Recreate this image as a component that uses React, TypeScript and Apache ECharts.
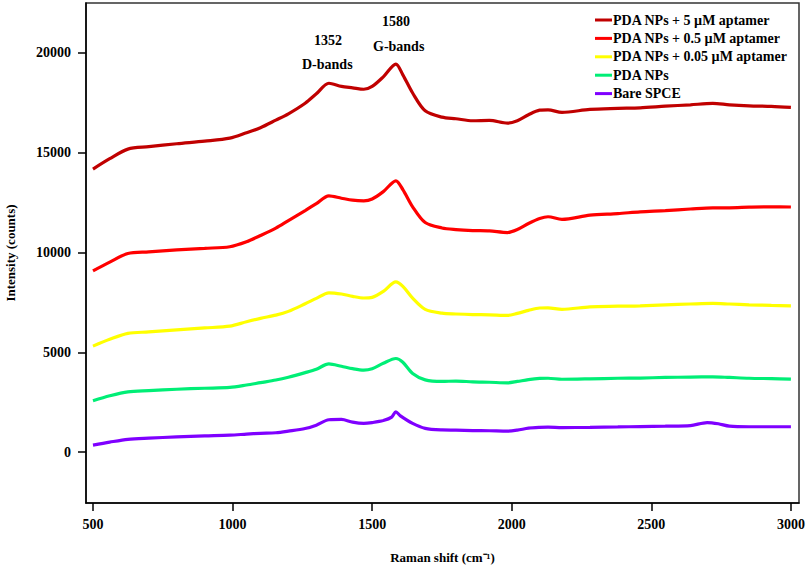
import React, { useEffect, useRef } from "react";
import * as echarts from "echarts";

const ramanShift = [500, 560, 625, 700, 800, 900, 990, 1050, 1100, 1155, 1200, 1260, 1300, 1345, 1390, 1430, 1470, 1500, 1540, 1585, 1610, 1645, 1690, 1750, 1800, 1860, 1920, 1985, 2020, 2060, 2100, 2130, 2180, 2280, 2380, 2460, 2550, 2640, 2720, 2780, 2850, 2930, 3000];

const apt5 = [14180, 14700, 15180, 15300, 15450, 15580, 15730, 16000, 16250, 16630, 16950, 17480, 17950, 18480, 18320, 18250, 18180, 18320, 18800, 19440, 18900, 17990, 17100, 16780, 16700, 16600, 16620, 16480, 16600, 16900, 17130, 17150, 17020, 17170, 17220, 17250, 17330, 17400, 17470, 17400, 17350, 17320, 17270];
const apt05 = [9080, 9520, 9950, 10030, 10130, 10210, 10290, 10540, 10850, 11220, 11600, 12100, 12450, 12840, 12720, 12620, 12590, 12680, 13050, 13590, 13150, 12290, 11500, 11230, 11150, 11100, 11080, 11000, 11150, 11450, 11700, 11790, 11660, 11870, 11950, 12040, 12100, 12180, 12240, 12240, 12270, 12290, 12280];
const apt005 = [5310, 5650, 5950, 6020, 6120, 6220, 6310, 6530, 6700, 6860, 7050, 7430, 7700, 7980, 7920, 7800, 7720, 7750, 8050, 8530, 8300, 7710, 7150, 6960, 6920, 6890, 6880, 6850, 6950, 7100, 7220, 7230, 7150, 7280, 7310, 7330, 7380, 7420, 7450, 7420, 7380, 7350, 7330];
const pdaNPs = [2570, 2820, 3020, 3080, 3150, 3200, 3240, 3360, 3480, 3610, 3750, 3980, 4150, 4420, 4300, 4180, 4110, 4180, 4450, 4690, 4500, 3940, 3620, 3540, 3560, 3520, 3500, 3470, 3540, 3630, 3690, 3700, 3650, 3670, 3700, 3710, 3740, 3760, 3770, 3740, 3700, 3680, 3660];

const bareShift = [500, 560, 625, 700, 800, 900, 990, 1050, 1100, 1155, 1200, 1260, 1300, 1345, 1390, 1430, 1470, 1500, 1540, 1570, 1585, 1600, 1645, 1690, 1750, 1800, 1860, 1920, 1985, 2020, 2060, 2100, 2130, 2180, 2280, 2380, 2460, 2550, 2640, 2700, 2740, 2780, 2850, 2930, 3000];
const bareSPCE = [350, 500, 640, 700, 760, 810, 850, 900, 940, 970, 1050, 1180, 1350, 1620, 1640, 1500, 1440, 1480, 1580, 1750, 2020, 1830, 1440, 1190, 1110, 1100, 1080, 1070, 1050, 1100, 1200, 1240, 1250, 1230, 1240, 1260, 1280, 1300, 1330, 1480, 1420, 1300, 1270, 1270, 1270];

const seriesNames = ["PDA NPs + 5 µM aptamer", "PDA NPs + 0.5 µM aptamer", "PDA NPs + 0.05 µM aptamer", "PDA NPs", "Bare SPCE"];
const seriesColors = ["#c00000", "#ff0000", "#ffff00", "#00ee76", "#7f00ff"];
const xTicks = [500, 1000, 1500, 2000, 2500, 3000];
const yTicks = [0, 5000, 10000, 15000, 20000];

const FONT = "'Liberation Serif', 'Times New Roman', serif";

function pairs(xs: number[], ys: number[]) {
  return xs.map((x, i) => [x, ys[i]]);
}

export default function App() {
  const ref = useRef<HTMLDivElement>(null);
  useEffect(() => {
    if (!ref.current) return;
    const chart = echarts.init(ref.current, null, { renderer: "svg" });
    const datasets = [
      pairs(ramanShift, apt5),
      pairs(ramanShift, apt05),
      pairs(ramanShift, apt005),
      pairs(ramanShift, pdaNPs),
      pairs(bareShift, bareSPCE),
    ];
    chart.setOption({
      animation: false,
      backgroundColor: "#ffffff",
      grid: {
        left: 86,
        right: 10,
        top: 3,
        bottom: 67,
        show: true,
        borderColor: "#333",
        borderWidth: 1.5,
        containLabel: false,
        outerBoundsMode: "none",
      },
      legend: {
        orient: "vertical",
        left: 590,
        top: 8,
        itemWidth: 17,
        itemHeight: 3,
        itemGap: 4.4,
        icon: "rect",
        data: seriesNames,
        textStyle: { fontFamily: FONT, fontWeight: "bold", fontSize: 14, color: "#000", padding: [0, 0, 0, -4] },
      },
      xAxis: {
        type: "value",
        min: 475,
        max: 3029,
        name: "Raman shift (cm⁻¹)",
        nameLocation: "middle",
        nameGap: 48,
        nameTextStyle: { fontFamily: FONT, fontWeight: "bold", fontSize: 13, color: "#000" },
        axisLine: { show: true, onZero: false, lineStyle: { color: "#000", width: 1.5 } },
        axisTick: { show: true, customValues: xTicks, length: 8, lineStyle: { color: "#000", width: 1.5 } },
        axisLabel: { customValues: xTicks, formatter: (v: number) => String(v), margin: 14, fontFamily: FONT, fontWeight: "bold", fontSize: 14, color: "#000" },
        splitLine: { show: false },
      },
      yAxis: {
        type: "value",
        min: -2550,
        max: 22500,
        name: "Intensity (counts)",
        nameLocation: "middle",
        nameGap: 69,
        nameTextStyle: { fontFamily: FONT, fontWeight: "bold", fontSize: 13, color: "#000" },
        axisLine: { show: true, onZero: false, lineStyle: { color: "#000", width: 1.5 } },
        axisTick: { show: true, customValues: yTicks, length: 8, lineStyle: { color: "#000", width: 1.5 } },
        axisLabel: { customValues: yTicks, formatter: (v: number) => String(v), margin: 15, fontFamily: FONT, fontWeight: "bold", fontSize: 14, color: "#000" },
        splitLine: { show: false },
      },
      series: datasets.map((d, i) => ({
        name: seriesNames[i],
        type: "line",
        data: d,
        showSymbol: false,
        symbol: "none",
        smooth: 0.3,
        color: seriesColors[i],
        lineStyle: { color: seriesColors[i], width: 3.2 },
        z: 10 - i,
      })),
      graphic: [
        { type: "text", left: 398 - 16, top: 23 - 9, style: { text: "1580", font: `bold 14px ${FONT}`, fill: "#000" } },
        { type: "text", left: 400 - 27, top: 48 - 9, style: { text: "G-bands", font: `bold 14px ${FONT}`, fill: "#000" } },
        { type: "text", left: 330 - 16, top: 42 - 9, style: { text: "1352", font: `bold 14px ${FONT}`, fill: "#000" } },
        { type: "text", left: 328 - 26, top: 66 - 9, style: { text: "D-bands", font: `bold 14px ${FONT}`, fill: "#000" } },
      ],
    });
    return () => chart.dispose();
  }, []);
  return <div ref={ref} style={{ width: 809, height: 570, position: "absolute", left: 0, top: 0 }} />;
}
